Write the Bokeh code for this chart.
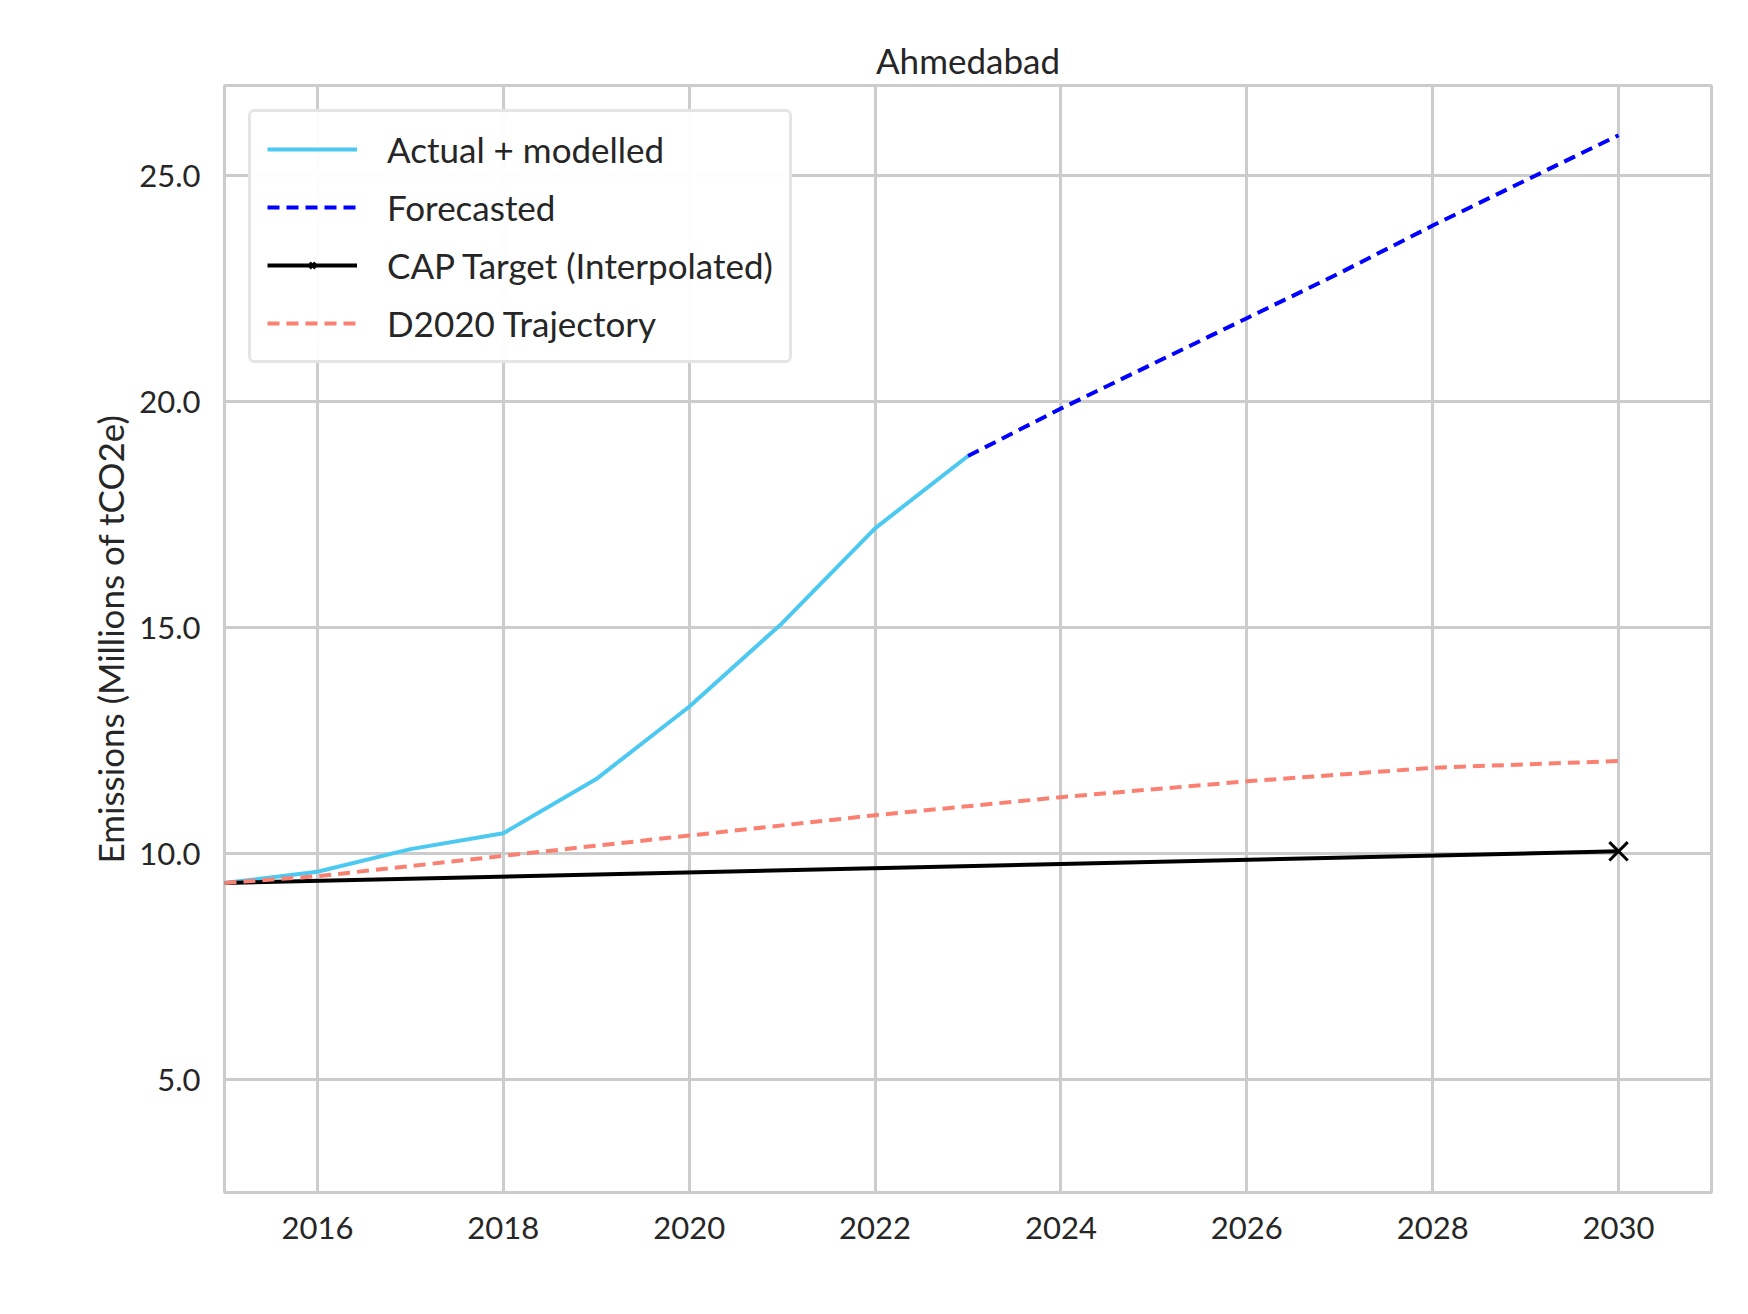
from bokeh.plotting import figure
from bokeh.models import Range1d, FixedTicker, Legend, LegendItem, NumeralTickFormatter
from bokeh.embed import file_html
from bokeh.resources import INLINE

years_actual = [2015, 2016, 2017, 2018, 2019, 2020, 2021, 2022, 2023]
actual = [9.35, 9.6, 10.1, 10.45, 11.65, 13.25, 15.1, 17.2, 18.8]
years_fc = [2023, 2024, 2025, 2026, 2027, 2028, 2029, 2030]
forecast = [18.8, 19.85, 20.85, 21.85, 22.85, 23.9, 24.9, 25.9]
years_cap = [2015, 2030]
cap = [9.35, 10.05]
years_d2020 = [2015, 2016, 2018, 2020, 2022, 2024, 2026, 2028, 2030]
d2020 = [9.35, 9.5, 9.95, 10.4, 10.85, 11.25, 11.6, 11.9, 12.05]

FONT = "Lato"
p = figure(width=1740, height=1300, output_backend="svg", toolbar_location=None,
           x_range=Range1d(2015, 2031), y_range=Range1d(2.5, 27.0),
           min_border_left=224, min_border_right=29, min_border_top=85, min_border_bottom=108,
           title="Ahmedabad")
p.title.text_font = FONT
p.title.text_font_size = "35px"
p.title.text_font_style = "normal"
p.title.align = "center"
p.title.text_color = "#262626"
p.outline_line_color = "#cccccc"
p.outline_line_width = 3

r1 = p.line(years_actual, actual, line_color="#4cc9f0", line_width=4)
r2 = p.line(years_fc, forecast, line_color="#0000ff", line_width=4, line_dash="12 7")
r3 = p.line(years_cap, cap, line_color="black", line_width=4)
r3m = p.scatter(years_cap[-1:], cap[-1:], marker="x", size=26, line_color="black", line_width=3)
r4 = p.line(years_d2020, d2020, line_color="#fa8072", line_width=4, line_dash="12 7")

for ax in (p.xaxis[0], p.yaxis[0]):
    ax.axis_line_color = None
    ax.major_tick_line_color = None
    ax.minor_tick_line_color = None
    ax.major_label_text_font = FONT
    ax.major_label_text_font_size = "31px"
    ax.major_label_text_color = "#262626"
    ax.major_label_standoff = 18
p.xaxis.ticker = FixedTicker(ticks=[2016, 2018, 2020, 2022, 2024, 2026, 2028, 2030])
p.yaxis.ticker = FixedTicker(ticks=[5, 10, 15, 20, 25])
p.yaxis.formatter = NumeralTickFormatter(format="0.0")
p.yaxis.axis_label = "Emissions (Millions of tCO2e)"
p.yaxis.axis_label_text_font = FONT
p.yaxis.axis_label_text_font_size = "35px"
p.yaxis.axis_label_text_font_style = "normal"
p.yaxis.axis_label_text_color = "#262626"
p.grid.grid_line_color = "#cccccc"
p.grid.grid_line_width = 3

legend = Legend(items=[
    LegendItem(label="Actual + modelled", renderers=[r1]),
    LegendItem(label="Forecasted", renderers=[r2]),
    LegendItem(label="CAP Target (Interpolated)", renderers=[r3, r3m]),
    LegendItem(label="D2020 Trajectory", renderers=[r4]),
], location="top_left")
legend.label_text_font = FONT
legend.label_text_font_size = "35px"
legend.label_text_color = "#262626"
legend.glyph_width = 90
legend.label_standoff = 30
legend.spacing = 16
legend.padding = 16
legend.margin = 24
legend.border_line_color = "#cccccc"
legend.border_line_width = 3
legend.border_radius = 6
p.add_layout(legend)

open("out.html", "w").write(file_html(p, INLINE))
